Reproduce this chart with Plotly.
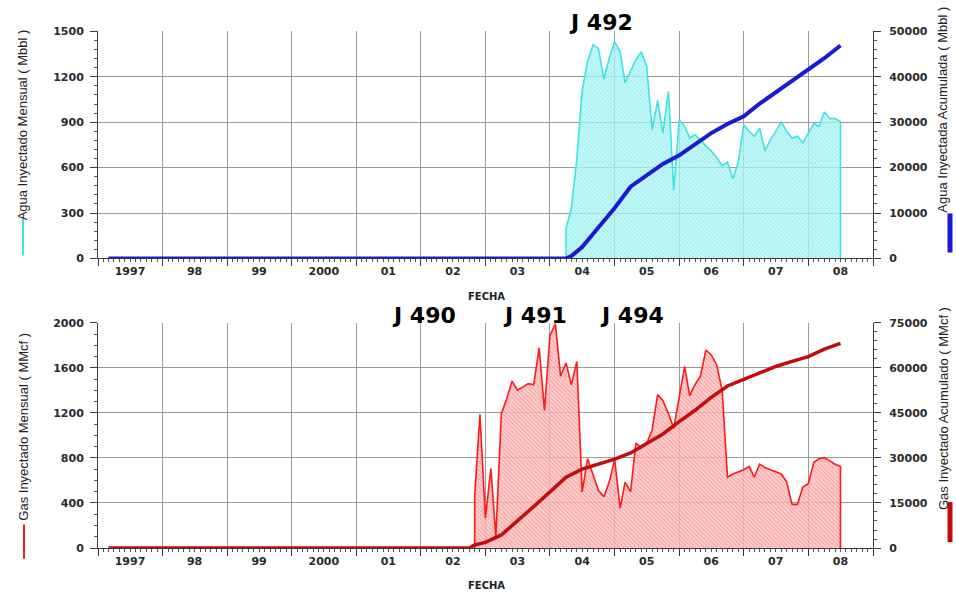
import pandas as pd
import plotly.graph_objects as go

# ---------------- data ----------------
# Monthly water injection (Mbbl), starting April 2004
water_start = "2004-04-01"
water_monthly = [194, 333, 656, 1108, 1302, 1414, 1388, 1184, 1323, 1431, 1366, 1162,
                 1237, 1313, 1366, 1270, 850, 1044, 828, 1104, 452, 915, 872, 796,
                 818, 785, 742, 710, 667, 613, 635, 527, 635, 882, 839, 807,
                 861, 710, 785, 839, 904, 839, 796, 807, 764, 828, 893, 872,
                 968, 925, 925, 904]

# Cumulative water injection (Mbbl)
water_cum_dates = ["1997-03-01", "2004-04-01", "2004-05-01", "2004-07-01", "2004-10-01",
                   "2005-01-01", "2005-04-01", "2005-07-01", "2005-10-01", "2006-01-01",
                   "2006-04-01", "2006-07-01", "2006-10-01", "2007-01-01", "2007-04-01",
                   "2007-07-01", "2007-10-01", "2008-01-01", "2008-04-01", "2008-07-01"]
water_cum = [0, 0, 500, 2500, 6800, 11100, 15800, 18400, 20800, 22700,
             25100, 27600, 29600, 31300, 34100, 36600, 39100, 41600, 44100, 46900]

# Monthly gas injection (MMcf), starting November 2002
gas_start = "2002-11-01"
gas_monthly = [450, 1188, 267, 707, 100, 1194, 1325, 1484, 1403, 1432, 1461, 1450,
               1780, 1223, 1890, 1992, 1528, 1644, 1450, 1658, 499, 794, 644, 513,
               455, 586, 788, 354, 586, 499, 933, 890, 933, 1049, 1363, 1310,
               1194, 1064, 1339, 1615, 1354, 1455, 1528, 1760, 1716, 1629, 1400, 629,
               658, 678, 696, 725, 629, 745, 716, 696, 678, 658, 586, 388,
               388, 542, 571, 760, 794, 803, 774, 745, 725]

# Cumulative gas injection (MMcf)
gas_cum_dates = ["1997-03-01", "2002-10-01", "2002-11-01", "2003-01-01", "2003-04-01",
                 "2003-07-01", "2003-10-01", "2004-01-01", "2004-04-01", "2004-07-01",
                 "2004-10-01", "2005-01-01", "2005-04-01", "2005-07-01", "2005-10-01",
                 "2006-01-01", "2006-04-01", "2006-07-01", "2006-10-01", "2007-01-01",
                 "2007-04-01", "2007-07-01", "2007-10-01", "2008-01-01", "2008-04-01",
                 "2008-07-01"]
gas_cum = [0, 0, 1000, 1850, 4350, 8900, 13800, 18700, 23600, 26300,
           27900, 29600, 31700, 35000, 38000, 42100, 45900, 50200, 54000, 56200,
           58400, 60500, 62200, 63800, 66300, 68200]

year_labels = ["1997", "98", "99", "2000", "01", "02", "03", "04", "05", "06", "07", "08"]
well_labels_top = [("J 492", "2004-10-15")]
well_labels_bottom = [("J 490", "2002-01-20"), ("J 491", "2003-10-10"), ("J 494", "2005-04-10")]

# ---------------- helpers ----------------
W, H = 956, 600
def px(x):
    return x / W
def py(y):
    return 1 - y / H

water_dates = pd.date_range(water_start, periods=len(water_monthly), freq="MS")
gas_dates = pd.date_range(gas_start, periods=len(gas_monthly), freq="MS")

def closed(dates, vals):
    # drop the monthly series to zero at both ends so the outline is vertical there
    xs = [dates[0]] + list(dates) + [dates[-1]]
    ys = [0] + list(vals) + [0]
    return xs, ys

year_starts = [f"{y}-01-01" for y in range(1997, 2010)]
mid_years = [f"{y}-07-01" for y in range(1997, 2009)]
x_range = ["1997-01-01", "2009-01-01"]

tick_font = dict(family="DejaVu Sans", size=11, color="#2a2a2a", weight="bold")
title_font = dict(family="Liberation Sans Narrow, Liberation Sans, Arial", size=13, color="#222")
grid_col = "#9a9a9a"
axis_col = "#3a3a3a"

fig = go.Figure()

# ---- top: water ----
wx, wy = closed(water_dates, water_monthly)
fig.add_trace(go.Scatter(
    x=wx, y=wy, xaxis="x", yaxis="y", mode="lines",
    line=dict(color="#3de3e3", width=1.6), fill="tozeroy",
    fillcolor="rgba(140,238,238,0.55)",
    fillpattern=dict(shape="\\", size=3, solidity=0.3,
                     fgcolor="rgba(90,228,228,0.9)", bgcolor="rgba(180,244,244,0.75)"),
    showlegend=False, hoverinfo="skip"))
fig.add_trace(go.Scatter(
    x=water_cum_dates, y=water_cum, xaxis="x", yaxis="y2", mode="lines",
    line=dict(color="#1a1ad6", width=4),
    showlegend=False, hoverinfo="skip"))

# ---- bottom: gas ----
gx, gy = closed(gas_dates, gas_monthly)
fig.add_trace(go.Scatter(
    x=gx, y=gy, xaxis="x2", yaxis="y3", mode="lines",
    line=dict(color="#ff1a1a", width=1.6), fill="tozeroy",
    fillcolor="rgba(255,170,170,0.6)",
    fillpattern=dict(shape="\\", size=3, solidity=0.3,
                     fgcolor="rgba(240,70,70,0.8)", bgcolor="rgba(255,195,195,0.8)"),
    showlegend=False, hoverinfo="skip"))
fig.add_trace(go.Scatter(
    x=gas_cum_dates, y=gas_cum, xaxis="x2", yaxis="y4", mode="lines",
    line=dict(color="#c40c0c", width=3.5),
    showlegend=False, hoverinfo="skip"))

dom_x = [px(98), px(873)]
dom_top = [py(258), py(26)]
dom_bot = [py(554), py(324)]

def grid_xaxis(anchor):
    return dict(domain=dom_x, range=x_range, type="date", anchor=anchor,
                tickmode="array", tickvals=year_starts, ticktext=[""] * len(year_starts),
                showgrid=True, gridcolor=grid_col, gridwidth=1,
                ticks="outside", ticklen=7, tickwidth=1, tickcolor=axis_col,
                showline=True, linecolor=axis_col, linewidth=1, zeroline=False,
                minor=dict(dtick="M1", tick0="1997-01-01", ticks="outside",
                           ticklen=3, tickcolor="#555", showgrid=False))

def label_xaxis(anchor, over):
    return dict(domain=dom_x, range=x_range, type="date", anchor=anchor,
                overlaying=over, tickmode="array", tickvals=mid_years,
                ticktext=year_labels, ticks="", showgrid=False, showline=False,
                zeroline=False, tickfont=tick_font, ticklabelstandoff=5)

def left_yaxis(rng, dt, mdt, anchor, dom):
    return dict(domain=dom, range=rng, dtick=dt, tick0=0, anchor=anchor, side="left",
                showgrid=True, gridcolor=grid_col, gridwidth=1, zeroline=False,
                ticks="outside", ticklen=7, tickcolor=axis_col, showline=True,
                linecolor=axis_col, linewidth=1, tickfont=tick_font, tickformat="d",
                ticklabelstandoff=4,
                minor=dict(dtick=mdt, ticks="outside", ticklen=3, tickcolor="#555",
                           showgrid=False))

def right_yaxis(rng, dt, mdt, anchor, over):
    return dict(range=rng, dtick=dt, tick0=0, anchor=anchor, side="right",
                overlaying=over, showgrid=False, zeroline=False,
                ticks="outside", ticklen=7, tickcolor=axis_col, showline=True,
                linecolor=axis_col, linewidth=1, tickfont=tick_font, tickformat="d",
                ticklabelstandoff=6,
                minor=dict(dtick=mdt, ticks="outside", ticklen=3, tickcolor="#555",
                           showgrid=False))

fig.update_layout(
    width=W, height=H, margin=dict(l=0, r=0, t=0, b=0),
    paper_bgcolor="white", plot_bgcolor="white",
    xaxis=grid_xaxis("y"),
    xaxis2=grid_xaxis("y3"),
    xaxis3=label_xaxis("y", "x"),
    xaxis4=label_xaxis("y3", "x2"),
    yaxis=left_yaxis([0, 1500], 300, 60, "x", dom_top),
    yaxis2=right_yaxis([0, 50000], 10000, 2000, "x", "y"),
    yaxis3=left_yaxis([0, 2000], 400, 100, "x2", dom_bot),
    yaxis4=right_yaxis([0, 75000], 15000, 3000, "x2", "y3"),
)

# keep the label axes alive with empty traces
fig.add_trace(go.Scatter(x=[], y=[], xaxis="x3", yaxis="y", showlegend=False))
fig.add_trace(go.Scatter(x=[], y=[], xaxis="x4", yaxis="y3", showlegend=False))

ann = []
bold = dict(family="DejaVu Sans", size=22, color="black")
for txt, d in well_labels_top:
    ann.append(dict(text=f"<b>{txt}</b>", x=d, xref="x", y=py(17), yref="paper",
                    xanchor="center", yanchor="middle", showarrow=False, font=bold))
for txt, d in well_labels_bottom:
    ann.append(dict(text=f"<b>{txt}</b>", x=d, xref="x2", y=py(316), yref="paper",
                    xanchor="center", yanchor="middle", showarrow=False, font=bold))
fecha_font = dict(family="DejaVu Sans", size=10, color="#222")
ann.append(dict(text="<b>FECHA</b>", x=px(486), y=py(297), xref="paper", yref="paper",
                xanchor="center", yanchor="middle", showarrow=False, font=fecha_font))
ann.append(dict(text="<b>FECHA</b>", x=px(486), y=py(592), xref="paper", yref="paper",
                xanchor="center", yanchor="middle", showarrow=False, font=fecha_font))

titles = [
    ("Agua Inyectado Mensual ( Mbbl )", 22, 122),
    ("Agua Inyectada Acumulada ( Mbbl )", 943, 106),
    ("Gas Inyectado Mensual ( MMcf )", 24, 430),
    ("Gas Inyectado Acumulado ( MMcf )", 943, 412),
]
for txt, x, y in titles:
    ann.append(dict(text=txt, x=px(x), y=py(y), xref="paper", yref="paper",
                    xanchor="center", yanchor="middle",
                    textangle=-90, showarrow=False, font=title_font))
fig.update_layout(annotations=ann)

# legend keys beside the axis titles
keys = [
    (23, 217, 255, "#3de3e3", 2),
    (950, 212, 252, "#1a1ad6", 5),
    (24, 530, 565, "#ff1a1a", 2),
    (950, 507, 548, "#c40c0c", 5),
]
for x, y0, y1, c, w in keys:
    fig.add_shape(type="line", xref="paper", yref="paper", x0=px(x), x1=px(x),
                  y0=py(y0), y1=py(y1), line=dict(color=c, width=w))

fig.write_html("out.html")
